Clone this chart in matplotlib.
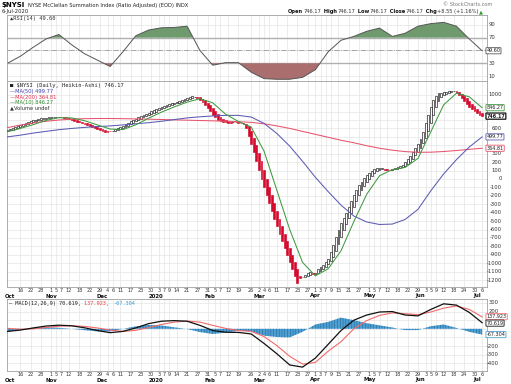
import numpy as np
import pandas as pd
import matplotlib
matplotlib.use('Agg')
import matplotlib.pyplot as plt
from matplotlib import transforms as mtrans

plt.rcParams['font.family'] = ['DejaVu Sans']
plt.rcParams['hatch.linewidth'] = 0.35

# ---- data ----
holidays = ['2019-11-28', '2019-12-25', '2020-01-01', '2020-01-20',
            '2020-02-17', '2020-04-10', '2020-05-25', '2020-07-03']
days = pd.bdate_range('2019-10-09', '2020-07-06')
days = days[~days.isin(pd.to_datetime(holidays))]

# Heikin-Ashi close, one per trading day
ha_close = [585, 590, 600, 613, 626, 639, 651, 663, 675, 687, 697,
            706, 713, 719, 724, 728, 731, 734, 737, 739, 740,
            733, 726, 718, 709, 700, 690, 681, 671, 660, 650, 640, 628, 618, 606, 595, 583, 572, 563,
            560, 565, 575, 588, 602, 617, 633, 650, 667, 684, 700, 716, 731, 746, 760, 774, 788,
            801, 814, 827, 840, 852, 863, 874, 885, 896, 907, 918, 929, 940, 951, 962, 972, 980,
            975, 962, 940, 915, 880, 845, 805, 765, 730, 705, 690, 680, 672, 668, 670, 676, 672,
            665, 660, 652,
            600, 505, 410, 315, 215, 110, 5, -100, -195, -290, -380, -470, -560, -650, -735,
            -820, -905, -990, -1070, -1150, -1235,
            -1180, -1165, -1145, -1120, -1100, -1125, -1110, -1065, -1040, -1015, -985, -945,
            -870, -780, -690, -605, -525, -460, -400,
            -330, -260, -190, -130, -75, -30, 10, 45, 75, 100, 115, 125, 130, 125, 112, 108,
            112, 120, 130, 140,
            150, 170, 200, 235, 275, 320, 370, 420, 470, 560, 660, 760, 860, 940, 990, 1015,
            1025, 1030, 1035, 1040, 1045, 1040,
            1020, 995, 965, 930, 895, 860, 830, 805, 785, 765, 746.17]

# weekly samples (every 5th trading day) for the indicator lines
wk = np.arange(0, 186, 5)
ma10 = [560, 600, 645, 696, 727, 725, 692, 642, 593, 586, 643, 722, 793, 856, 912, 953, 904,
        769, 683, 615, 330, -135, -600, -990, -1150, -1065, -852, -505, -182, 38, 112, 137,
        245, 560, 880, 1018, 975, 846.27]
ma50 = [500, 520, 545, 565, 585, 600, 612, 622, 630, 642, 655, 668, 685, 705, 725, 738, 748,
        755, 755, 735, 660, 540, 390, 210, 20, -150, -310, -440, -510, -540, -535, -480,
        -360, -140, 60, 230, 380, 499.77]
ma200 = [610, 640, 665, 685, 700, 710, 716, 718, 718, 716, 713, 710, 706, 702, 698, 694, 690,
         686, 680, 672, 655, 630, 600, 565, 530, 495, 460, 430, 395, 365, 342, 325, 317, 318,
         326, 338, 352, 364.81]
rsi = [30, 41, 55, 68, 75, 59, 45, 35, 25, 48, 73, 82, 85.5, 86, 88, 50, 27, 31, 31, 16, 6,
       5, 5, 8, 20, 48, 66, 72, 80, 85, 72, 77, 88, 92, 94, 88, 68, 49.6]
macd = [-30, -15, 10, 32, 42, 35, 12, -20, -45, -30, 10, 60, 88, 95, 88, 40, -20, -40, -42,
        -60, -170, -290, -420, -445, -340, -180, -20, 100, 160, 195, 200, 160, 150, 225, 290,
        275, 190, 70.619]
signal = [5, -5, 0, 15, 30, 35, 28, 10, -15, -30, -18, 15, 50, 78, 90, 78, 40, 5, -20, -30,
          -90, -195, -320, -410, -390, -260, -150, 0, 95, 155, 185, 175, 165, 195, 240, 265,
          225, 137.923]
hist = [-35, -10, 10, 17, 12, 0, -16, -30, -30, 0, 28, 45, 38, 17, -2, -38, -60, -45, -22,
        -30, -80, -95, -100, -35, 50, 80, 130, 100, 65, 40, 15, -15, -15, 30, 50, 10, -35,
        -67.304]

day_ticks = ['2019-10-16', '2019-10-22', '2019-10-28', '2019-11-01', '2019-11-05', '2019-11-07',
             '2019-11-12', '2019-11-18', '2019-11-22', '2019-11-29', '2019-12-04', '2019-12-06',
             '2019-12-11', '2019-12-17', '2019-12-23', '2019-12-30', '2020-01-03', '2020-01-07',
             '2020-01-09', '2020-01-14', '2020-01-21', '2020-01-27', '2020-01-31', '2020-02-05',
             '2020-02-07', '2020-02-12', '2020-02-19', '2020-02-26', '2020-03-02', '2020-03-04',
             '2020-03-06', '2020-03-11', '2020-03-17', '2020-03-23', '2020-03-27', '2020-04-01',
             '2020-04-03', '2020-04-07', '2020-04-09', '2020-04-15', '2020-04-21', '2020-04-27',
             '2020-05-01', '2020-05-05', '2020-05-07', '2020-05-12', '2020-05-18', '2020-05-22',
             '2020-05-29', '2020-06-03', '2020-06-05', '2020-06-09', '2020-06-12', '2020-06-18',
             '2020-06-24', '2020-06-30', '2020-07-06']
month_names = ['Oct', 'Nov', 'Dec', '2020', 'Feb', 'Mar', 'Apr', 'May', 'Jun', 'Jul']
month_dates = ['2019-10-10', '2019-11-01', '2019-12-02', '2020-01-02', '2020-02-03',
               '2020-03-02', '2020-04-01', '2020-05-01', '2020-06-01', '2020-07-01']

price_ticks = list(range(-1200, 1001, 100))
price_shown = [t for t in price_ticks if t not in (900, 800, 700, 500, 400)]
rsi_ticks = [10, 30, 50, 70, 90]
macd_ticks = [-400, -300, -200, -100, 0, 100, 200, 300]
macd_shown = [-400, -300, -200, 200, 300]

# ---- helpers ----
W, H = 511, 384
n = len(ha_close)
x = np.arange(n)
tick_idx = [days.get_loc(pd.Timestamp(d)) for d in day_ticks]
tick_lab = [str(pd.Timestamp(d).day) for d in day_ticks]
month_idx = [days.get_loc(pd.Timestamp(d)) for d in month_dates]


def fx(px):
    return px / W


def fy(py):
    return 1 - py / H


def panel(top, bottom):
    return fig.add_axes([fx(7), fy(bottom), 480 / W, (bottom - top) / H])


def style(ax, yticks, ylim):
    ax.set_xlim(-0.2, 186.9)
    ax.set_ylim(*ylim)
    ax.set_xticks(tick_idx)
    ax.set_yticks(yticks)
    ax.tick_params(length=0, labelbottom=False, labelleft=False, labelright=False)
    ax.grid(True, color='#e4e4e4', lw=0.5)
    ax.set_axisbelow(True)
    for s in ax.spines.values():
        s.set_color('#a0a0a0')
        s.set_linewidth(0.6)


def right_labels(ax, ticks, xpos, ha):
    tr = mtrans.blended_transform_factory(ax.transAxes, ax.transData)
    for t in ticks:
        ax.text(xpos, t, str(t), transform=tr, ha=ha, va='center', fontsize=3.8,
                color='#333333', clip_on=False)


def tag(ax, val, text, ec, bold=False):
    tr = mtrans.blended_transform_factory(ax.transAxes, ax.transData)
    ax.text(0.999, val, text, transform=tr, ha='left', va='center', fontsize=3.5,
            color='#222222', fontweight='bold' if bold else 'normal', clip_on=False,
            bbox=dict(boxstyle='round,pad=0.12', fc='white', ec=ec, lw=0.9 if bold else 0.6))


def chain(pieces, px, py, **kw):
    r = fig.canvas.get_renderer()
    xx = fx(px)
    for txt, col, wt in pieces:
        t = fig.text(xx, fy(py), txt, color=col, fontweight=wt, va='center', ha='left', **kw)
        bb = t.get_window_extent(renderer=r)
        xx = xx + bb.width / (W * 1.0) + 0.5 / W


def date_labels(ax, day_row, month_row):
    tr = mtrans.blended_transform_factory(ax.transData, fig.transFigure)
    for i, lab in zip(tick_idx, tick_lab):
        ax.text(i, fy(day_row), lab, transform=tr, ha='center', va='center',
                fontsize=3.5, color='#333333', clip_on=False)
    for i, lab in zip(month_idx, month_names):
        ax.text(i, fy(month_row), lab, transform=tr, ha='center', va='center',
                fontsize=3.9, fontweight='bold', color='#111111', clip_on=False)


fig = plt.figure(figsize=(W / 100, H / 100), dpi=100, facecolor='white')
fig.canvas.draw()

# ---- header ----
fig.text(fx(2), fy(5), '$NYSI', fontsize=5, fontweight='bold', va='center')
fig.text(fx(28), fy(5), 'NYSE McClellan Summation Index (Ratio Adjusted) (EOD) INDX',
         fontsize=3.7, va='center', color='#222222')
fig.text(fx(2), fy(11.5), '6-Jul-2020', fontsize=3.8, va='center', color='#222222')
fig.text(fx(492), fy(5), '\u00a9 StockCharts.com', fontsize=3.6, va='center', ha='right',
         color='#777777')
chain([('Open', '#111111', 'bold'), ('746.17', '#333333', 'normal'),
       (' High', '#111111', 'bold'), ('746.17', '#333333', 'normal'),
       (' Low', '#111111', 'bold'), ('746.17', '#333333', 'normal'),
       (' Close', '#111111', 'bold'), ('746.17', '#333333', 'normal'),
       (' Chg', '#111111', 'bold'), ('+8.55 (+1.16%)', '#333333', 'normal'),
       ('\u25b2', '#2a9a2a', 'normal')], 288, 11.5, fontsize=3.7)

# ---- RSI panel ----
ax1 = panel(15, 81)
style(ax1, rsi_ticks, (2.3, 105.5))
rsi_a = np.array(rsi, dtype=float)
ax1.axhline(70, color='#b0b0b0', lw=1.0, zorder=1)
ax1.axhline(30, color='#b0b0b0', lw=1.0, zorder=1)
ax1.axhline(50, color='#9a9a9a', lw=0.6, ls='-.', zorder=1)
ax1.fill_between(wk, rsi_a, 70, where=rsi_a >= 70, interpolate=True, color='#6e9a6e', lw=0)
ax1.fill_between(wk, rsi_a, 30, where=rsi_a <= 30, interpolate=True, color='#aa6e6e', lw=0)
ax1.plot(wk, rsi_a, color='#555555', lw=0.7)
right_labels(ax1, [90, 70, 30, 10], 1.004, 'left')
tag(ax1, 49.6, '49.60', '#555555')
fig.text(fx(10), fy(18.5), '\u25b2RSI(14) 49.60', fontsize=3.9, family='DejaVu Sans Mono',
         va='center', color='#333333')

# ---- price panel ----
ax2 = panel(81, 287)
style(ax2, price_ticks, (-1282, 1163))
close = np.array(ha_close, dtype=float)
ha_open = np.empty(n)
ha_open[0] = 575
for k in range(1, n):
    ha_open[k] = (ha_open[k - 1] + close[k - 1]) / 2
up = close >= ha_open
ax2.bar(x[up], (close - ha_open)[up], bottom=ha_open[up], width=0.72,
        facecolor='white', edgecolor='#111111', linewidth=0.45, zorder=3)
ax2.bar(x[~up], (ha_open - close)[~up], bottom=close[~up], width=0.72,
        facecolor='#d3092c', edgecolor='#d3092c', linewidth=0.45, zorder=3)
ax2.plot(wk, ma200, color='#e8536d', lw=0.75, zorder=4)
ax2.plot(wk, ma50, color='#5b5bb5', lw=0.75, zorder=4)
ax2.plot(wk, ma10, color='#3f9a3f', lw=0.75, zorder=4)
right_labels(ax2, price_shown, 1 + 15 / 480, 'right')
tag(ax2, 846.27, '846.27', '#3f9a3f')
tag(ax2, 746.17, '746.17', '#111111', bold=True)
tag(ax2, 499.77, '499.77', '#5b5bb5')
tag(ax2, 364.81, '364.81', '#e8536d')

fig.text(fx(10), fy(86), '\u25a0 $NYSI (Daily, Heikin-Ashi) 746.17', fontsize=3.9,
         family='DejaVu Sans Mono', va='center', color='#222222')
fig.text(fx(10), fy(91.5), '\u2014MA(50) 499.77', fontsize=3.7, va='center', color='#4040b0')
fig.text(fx(10), fy(97), '\u2014MA(200) 364.81', fontsize=3.7, va='center', color='#e0304e')
fig.text(fx(10), fy(102.5), '\u2014MA(10) 846.27', fontsize=3.7, va='center', color='#2f8a2f')
fig.text(fx(10), fy(108), '\u25b2Volume undef', fontsize=3.7, va='center', color='#333333')
date_labels(ax2, 290, 296)

# ---- MACD panel ----
ax3 = panel(299, 371)
style(ax3, macd_ticks, (-490, 346))
ax3.fill_between(wk, 0, hist, facecolor='#4d9fd2', edgecolor='#1d5e90', hatch='||||||',
                 lw=0, zorder=2)
ax3.plot(wk, signal, color='#f26b6b', lw=0.8, zorder=3)
ax3.plot(wk, macd, color='#111111', lw=0.9, zorder=4)
right_labels(ax3, macd_shown, 1 + 12 / 480, 'right')
tag(ax3, 140, '137.923', '#f26b6b')
tag(ax3, 66, '70.619', '#111111')
tag(ax3, -67.304, '-67.304', '#4d9fd2')
chain([('\u2014 MACD(12,26,9) 70.619, ', '#222222', 'normal'),
       ('137.923, ', '#f03c3c', 'normal'),
       ('-67.304', '#3a9ad6', 'normal')], 9, 303.5, fontsize=3.8, family='DejaVu Sans Mono')
date_labels(ax3, 374.5, 380)

fig.savefig('out.png', dpi=100, facecolor='white')
